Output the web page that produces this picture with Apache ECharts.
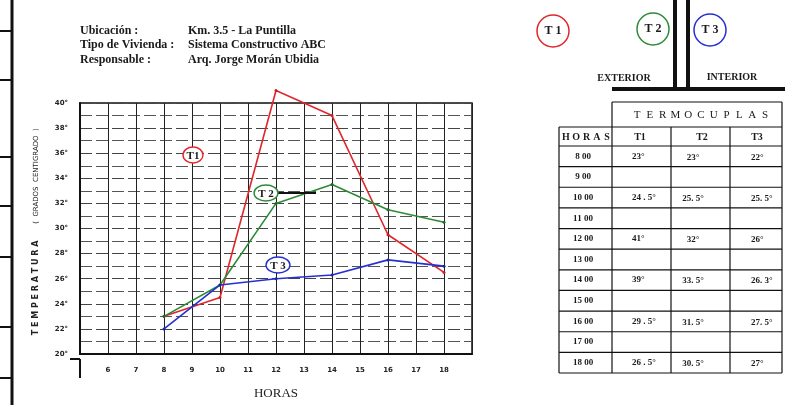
<!DOCTYPE html>
<html>
<head>
<meta charset="utf-8">
<script src="https://cdn.jsdelivr.net/npm/echarts@6/dist/echarts.min.js"></script>
<style>
  html, body { margin: 0; padding: 0; background: #fff; }
  #main { width: 795px; height: 405px; }
</style>
</head>
<body>
<div id="main"></div>
<script>
var hours = [8, 10, 12, 14, 16, 18];
var t1 = [23, 24.5, 41, 39, 29.5, 26.5];
var t2 = [23, 25.5, 32, 33.5, 31.5, 30.5];
var t3 = [22, 25.5, 26, 26.3, 27.5, 27];
var tableHours = ['8 00', '9 00', '10 00', '11 00', '12 00', '13 00', '14 00', '15 00', '16 00', '17 00', '18 00'];
var xTicks = [6, 7, 8, 9, 10, 11, 12, 13, 14, 15, 16, 17, 18];

var SERIF = '"Liberation Serif", "DejaVu Serif", serif';
var SANS = '"DejaVu Sans", sans-serif';

function pairs(arr) {
    var out = [];
    for (var i = 0; i < hours.length; i++) out.push([hours[i], arr[i]]);
    return out;
}
// formatos como aparecen en la tabla
function fmtT1(v) {
    if (v % 1 === 0) return v + '°';
    return Math.floor(v) + ' . ' + Math.round((v % 1) * 10) + '°';
}
function fmtT23(v) {
    if (v % 1 === 0) return v + '°';
    return Math.floor(v) + '. ' + Math.round((v % 1) * 10) + '°';
}

function line(x1, y1, x2, y2, w, c) {
    return { type: 'line', silent: true, z: 50, shape: { x1: x1, y1: y1, x2: x2, y2: y2 },
        style: { stroke: c || '#111', lineWidth: w || 1 } };
}
function txt(s, x, y, font, align, fill) {
    return { type: 'text', silent: true, z: 60, style: { text: s, x: x, y: y, font: font,
        textAlign: align || 'left', textVerticalAlign: 'middle', fill: fill || '#1a1a1a' } };
}
function oval(cx, cy, rx, ry, c) {
    return { type: 'ellipse', silent: true, z: 55, shape: { cx: cx, cy: cy, rx: rx, ry: ry },
        style: { fill: '#fff', stroke: c, lineWidth: 1.4 } };
}
function spaced(s, x0, x1, y, font) {
    var res = [];
    var step = (x1 - x0) / (s.length - 1);
    for (var i = 0; i < s.length; i++) res.push(txt(s[i], x0 + i * step, y, font, 'center'));
    return res;
}

var g = [];
// borde izquierdo de la pagina
g.push(line(12, 0, 12, 405, 3));
[31, 80, 157, 206, 257, 327, 378].forEach(function (y) { g.push(line(0, y, 12, y, 2)); });

// encabezado
g.push(txt('Ubicación :', 80, 31, 'bold 12px ' + SERIF));
g.push(txt('Tipo de Vivienda :', 80, 45, 'bold 12px ' + SERIF));
g.push(txt('Responsable :', 80, 60, 'bold 12px ' + SERIF));
g.push(txt('Km. 3.5 - La Puntilla', 188, 31, 'bold 12px ' + SERIF));
g.push(txt('Sistema Constructivo ABC', 188, 45, 'bold 12px ' + SERIF));
g.push(txt('Arq. Jorge Morán Ubidia', 188, 60, 'bold 12px ' + SERIF));

// titulo eje y
g.push({ type: 'text', silent: true, x: 36, y: 288, rotation: Math.PI / 2,
    style: { text: 'T E M P E R A T U R A', font: 'bold 8px ' + SANS, textAlign: 'center', textVerticalAlign: 'middle', fill: '#222' } });
g.push({ type: 'text', silent: true, x: 36, y: 176, rotation: Math.PI / 2,
    style: { text: '(  GRADOS  CENTIGRADO  )', font: '7px ' + SANS, textAlign: 'center', textVerticalAlign: 'middle', fill: '#222' } });

// prolongacion de ejes
g.push(line(70, 359, 80, 359, 2));
g.push(line(80, 359, 80, 378, 2));

// etiquetas dentro de la grafica
g.push(oval(193, 155, 10, 8, '#e0262b'));
g.push(txt('T1', 193, 156, 'bold 11px ' + SERIF, 'center'));
g.push(line(278, 193, 316, 193, 2));
g.push(oval(266, 193, 12, 8, '#2e8b35'));
g.push(txt('T 2', 266, 194, 'bold 11px ' + SERIF, 'center'));
g.push(oval(278, 265, 12, 8, '#2530d0'));
g.push(txt('T 3', 278, 266, 'bold 11px ' + SERIF, 'center'));

// esquema termocuplas
g.push({ type: 'circle', silent: true, shape: { cx: 553, cy: 31, r: 16 }, style: { fill: 'none', stroke: '#e0262b', lineWidth: 1.5 } });
g.push(txt('T 1', 553, 31, 'bold 12px ' + SERIF, 'center'));
g.push({ type: 'circle', silent: true, shape: { cx: 653, cy: 29, r: 16 }, style: { fill: 'none', stroke: '#2e8b35', lineWidth: 1.5 } });
g.push(txt('T 2', 653, 29, 'bold 12px ' + SERIF, 'center'));
g.push({ type: 'circle', silent: true, shape: { cx: 710, cy: 30, r: 16 }, style: { fill: 'none', stroke: '#2530d0', lineWidth: 1.5 } });
g.push(txt('T 3', 710, 30, 'bold 12px ' + SERIF, 'center'));
g.push(line(675, 0, 675, 89, 4));
g.push(line(688, 0, 688, 89, 4));
g.push(line(612, 89, 785, 89, 4));
g.push(txt('EXTERIOR', 624, 78, 'bold 10px ' + SERIF, 'center'));
g.push(txt('INTERIOR', 732, 77, 'bold 10px ' + SERIF, 'center'));

// tabla
var rowTop = 146, rowH = (373 - 146) / tableHours.length;
g.push(line(612, 102, 782, 102, 1.2));
g.push(line(612, 102, 612, 373, 1.2));
g.push(line(782, 102, 782, 373, 1.2));
g.push(line(559, 127, 782, 127, 1.2));
g.push(line(559, 127, 559, 373, 1.2));
g.push(line(671, 127, 671, 373, 1.2));
g.push(line(730, 127, 730, 373, 1.2));
for (var r = 0; r <= tableHours.length; r++) {
    var yy = rowTop + r * rowH;
    g.push(line(559, yy, 782, yy, 1.2));
}
g = g.concat(spaced('TERMOCUPLAS', 637, 765, 115, '11px ' + SERIF));
g = g.concat(spaced('HORAS', 566, 607, 137, 'bold 10px ' + SERIF));
g.push(txt('T1', 640, 137, 'bold 10px ' + SERIF, 'center'));
g.push(txt('T2', 702, 137, 'bold 10px ' + SERIF, 'center'));
g.push(txt('T3', 757, 137, 'bold 10px ' + SERIF, 'center'));
for (var k = 0; k < tableHours.length; k++) {
    var yc = rowTop + (k + 0.5) * rowH;
    g.push(txt(tableHours[k], 583, yc, 'bold 9px ' + SERIF, 'center'));
    var idx = hours.indexOf(8 + k);
    if (idx >= 0) {
        g.push(txt(fmtT1(t1[idx]), 632, yc, 'bold 9px ' + SERIF, 'left'));
        g.push(txt(fmtT23(t2[idx]), 693, yc + 1, 'bold 9px ' + SERIF, 'center'));
        g.push(txt(fmtT23(t3[idx]), 751, yc + 1, 'bold 9px ' + SERIF, 'left'));
    }
}

var myChart = echarts.init(document.getElementById('main'));
var option = {
    animation: false,
    backgroundColor: '#fff',
    grid: {
        left: 80,
        top: 103,
        right: 323,
        bottom: 46,
        show: true,
        borderColor: '#111',
        borderWidth: 1.5
    },
    xAxis: {
        type: 'value',
        min: 5,
        max: 19,
        interval: 1,
        name: 'HORAS',
        nameLocation: 'middle',
        nameGap: 33,
        nameTextStyle: { fontFamily: 'Liberation Serif', fontSize: 13, color: '#222' },
        axisLine: { lineStyle: { color: '#111', width: 2 } },
        axisTick: { show: false },
        axisLabel: {
            margin: 13,
            fontSize: 7,
            fontWeight: 'bold',
            fontFamily: 'DejaVu Sans',
            color: '#222',
            formatter: function (v) { return xTicks.indexOf(v) >= 0 ? String(v) : ''; }
        },
        splitLine: { show: true, lineStyle: { color: '#222', width: 1 } }
    },
    yAxis: {
        type: 'value',
        min: 20,
        max: 40,
        interval: 2,
        axisLine: { show: true, lineStyle: { color: '#111', width: 2 } },
        axisTick: { show: false },
        minorTick: { show: false, splitNumber: 2 },
        axisLabel: {
            margin: 12,
            fontSize: 7,
            fontWeight: 'bold',
            fontFamily: 'DejaVu Sans',
            color: '#222',
            formatter: '{value}°'
        },
        splitLine: { show: true, lineStyle: { color: '#444', width: 1, type: [12, 4] } },
        minorSplitLine: { show: true, lineStyle: { color: '#555', width: 1, type: [12, 4] } }
    },
    series: [
        {
            name: 'T1', type: 'line', data: pairs(t1), clip: false,
            symbol: 'circle', symbolSize: 3,
            lineStyle: { color: '#e0262b', width: 1.6 },
            itemStyle: { color: '#c81e22' }
        },
        {
            name: 'T2', type: 'line', data: pairs(t2), clip: false,
            symbol: 'circle', symbolSize: 3,
            lineStyle: { color: '#2e8b35', width: 1.6 },
            itemStyle: { color: '#216b28' }
        },
        {
            name: 'T3', type: 'line', data: pairs(t3), clip: false,
            symbol: 'circle', symbolSize: 3,
            lineStyle: { color: '#2530d0', width: 1.6 },
            itemStyle: { color: '#1a24a8' }
        }
    ],
    graphic: { elements: g }
};
myChart.setOption(option);
</script>
</body>
</html>
